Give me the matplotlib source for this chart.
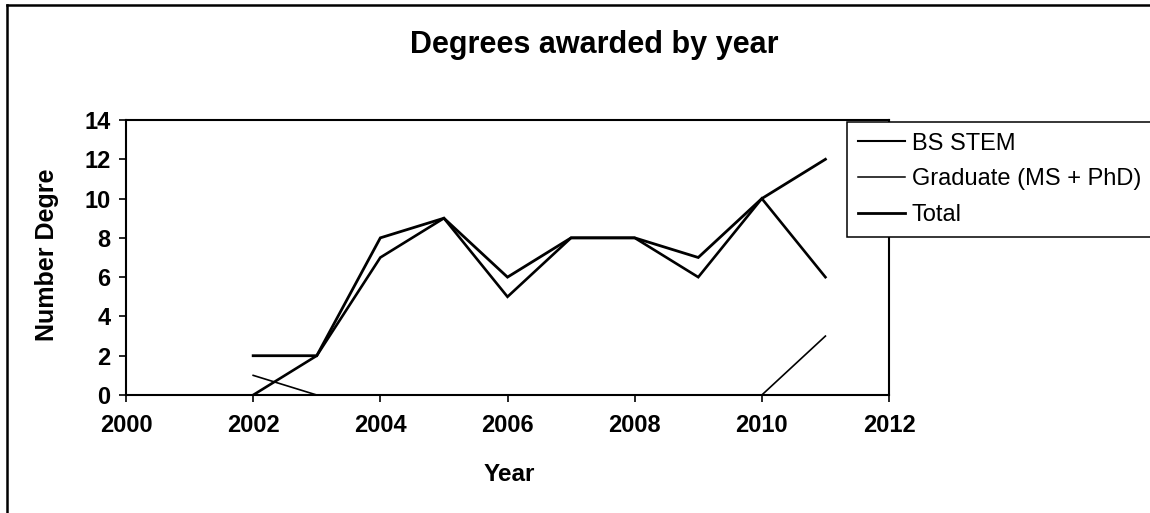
import matplotlib
matplotlib.use("Agg")
import matplotlib.pyplot as plt
from matplotlib.lines import Line2D

plt.rcParams['font.family'] = ['Liberation Sans', 'DejaVu Sans']

years = [2002, 2003, 2004, 2005, 2006, 2007, 2008, 2009, 2010, 2011]
bs_stem = [0, 2, 7, 9, 5, 8, 8, 6, 10, 6]
graduate = [1, 0, 0, 0, 0, 0, 0, 0, 0, 3]
total = [2, 2, 8, 9, 6, 8, 8, 7, 10, 12]
series_labels = ["BS STEM", "Graduate (MS + PhD)", "Total"]
x_ticks = [2000, 2002, 2004, 2006, 2008, 2010, 2012]
y_ticks = [0, 2, 4, 6, 8, 10, 12, 14]

W, H = 1150, 513
fig = plt.figure(figsize=(W / 100, H / 100), dpi=100)
fig.patch.set_facecolor("white")

def fx(px):
    return px / W

def fy(py):
    return 1 - py / H

ax = fig.add_axes([fx(126), fy(395), fx(889) - fx(126), fy(120) - fy(395)])
ax.plot(years, bs_stem, color="black", lw=1.9, label=series_labels[0], solid_joinstyle="miter")
ax.plot(years, graduate, color="black", lw=1.2, label=series_labels[1])
ax.plot(years, total, color="black", lw=2.0, label=series_labels[2], solid_joinstyle="miter")

ax.set_xlim(2000, 2012)
ax.set_ylim(0, 14)
ax.set_xticks(x_ticks)
ax.set_yticks(y_ticks)
ax.set_xticklabels([str(v) for v in x_ticks], fontsize=17, fontweight="bold")
ax.set_yticklabels([str(v) for v in y_ticks], fontsize=17, fontweight="bold")
ax.tick_params(axis="x", direction="out", length=5, width=1.2, pad=9)
ax.tick_params(axis="y", direction="out", length=5, width=1.2, pad=6)
for s in ax.spines.values():
    s.set_linewidth(1.5)
    s.set_color("black")

fig.text(fx(594), fy(53), "Degrees awarded by year", fontsize=22,
         fontweight="bold", ha="center", va="baseline")
fig.text(fx(509), fy(481), "Year", fontsize=17.5, fontweight="bold",
         ha="center", va="baseline")
fig.text(fx(47), fy(255), "Number Degre", fontsize=18, fontweight="bold",
         ha="center", va="center", rotation=90)

leg = fig.legend(handles=[Line2D([], [], color="black", lw=1.5),
                          Line2D([], [], color="black", lw=1.1),
                          Line2D([], [], color="black", lw=2.0)],
                 labels=series_labels,
                 loc="upper left",
                 bbox_to_anchor=(fx(847), fy(237), fx(400), fy(122) - fy(237)),
                 mode="expand", fontsize=17, frameon=True, fancybox=False,
                 edgecolor="black", framealpha=1, borderpad=0.45,
                 labelspacing=0.58, handlelength=2.0, handletextpad=0.3,
                 borderaxespad=0)
leg.get_frame().set_linewidth(1.1)

# chart-area frame (left and top edges visible)
fig.add_artist(Line2D([fx(7), fx(7)], [fy(5), fy(520)], color="black", lw=1.8,
                      transform=fig.transFigure))
fig.add_artist(Line2D([fx(7), fx(1160)], [fy(5), fy(5)], color="black", lw=1.8,
                      transform=fig.transFigure))

fig.savefig("out.png", dpi=100)
